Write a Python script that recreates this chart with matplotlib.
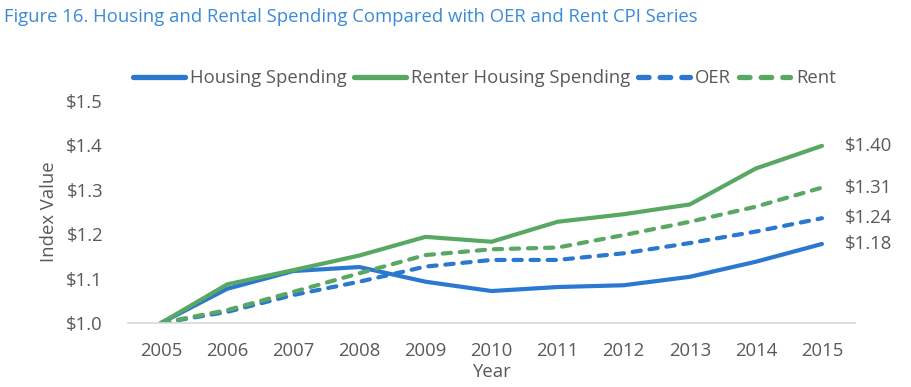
import matplotlib
matplotlib.use('Agg')
from matplotlib import pyplot as plt
from matplotlib.lines import Line2D

plt.rcParams['font.family'] = ['Open Sans', 'DejaVu Sans']

#%%
years = ['2005', '2006', '2007', '2008', '2009', '2010', '2011', '2012', '2013', '2014', '2015']
housing = [1.000, 1.077, 1.117, 1.126, 1.093, 1.072, 1.081, 1.085, 1.104, 1.138, 1.178]
renter = [1.000, 1.087, 1.119, 1.152, 1.194, 1.183, 1.228, 1.245, 1.267, 1.348, 1.399]
oer = [1.000, 1.025, 1.063, 1.093, 1.127, 1.142, 1.142, 1.157, 1.180, 1.206, 1.236]
rent = [1.000, 1.029, 1.070, 1.112, 1.153, 1.166, 1.170, 1.198, 1.228, 1.262, 1.305]
end_labels = ['$1.18', '$1.40', '$1.24', '$1.31']
y_ticks = [1.0, 1.1, 1.2, 1.3, 1.4, 1.5]

BLUE = '#2a78cf'
GREEN = '#58a864'
GREY = '#595959'
FS = 13.3
DASH = (0, (2.0, 2.1))

#%%
fig = plt.figure(figsize=(9.12, 3.87), dpi=100)
ax = fig.add_axes([0.1404, 0.1654, 0.7971, 0.5736])

x = range(len(years))
series = [
    (housing, 'Housing Spending', BLUE, '-'),
    (renter, 'Renter Housing Spending', GREEN, '-'),
    (oer, 'OER', BLUE, DASH),
    (rent, 'Rent', GREEN, DASH),
]
for (vals, name, color, ls), lab in zip(series, end_labels):
    ax.plot(x, vals, color=color, linestyle=ls, linewidth=3.0, label=name,
            solid_capstyle='round', dash_capstyle='round')
    ax.annotate(lab, xy=(len(years) - 1, vals[-1]), xytext=(16.5, 0),
                textcoords='offset points', va='center', ha='left',
                fontsize=FS, color=GREY, annotation_clip=False)

ax.set_xlim(-0.5, len(years) - 0.5)
ax.set_ylim(1.0, 1.5)
ax.set_xticks(list(x))
ax.set_xticklabels(years)
ax.set_yticks(y_ticks)
ax.set_yticklabels([f'${v:.1f}' for v in y_ticks])
ax.tick_params(length=0, labelsize=FS, labelcolor=GREY, pad=14)
ax.tick_params(axis='y', pad=18)
for s in ['top', 'right', 'left']:
    ax.spines[s].set_visible(False)
ax.spines['bottom'].set_color('#d9d9d9')
ax.spines['bottom'].set_linewidth(1.2)

ax.set_xlabel('Year', fontsize=FS, color=GREY, labelpad=1.5)
ax.set_ylabel('Index Value', fontsize=FS, color=GREY, labelpad=6)

handles = [Line2D([], [], color=c, linestyle=ls, linewidth=3.8,
                  solid_capstyle='round', dash_capstyle='round')
           for _, _, c, ls in series]
fig.legend(handles, [s[1] for s in series], loc='center', ncol=4,
           bbox_to_anchor=(0.531, 0.798), frameon=False, fontsize=FS,
           labelcolor=GREY, handlelength=2.8, handletextpad=0.3,
           columnspacing=0.4, borderpad=0, borderaxespad=0)

fig.text(0.004, 0.956, 'Figure 16. Housing and Rental Spending Compared with OER and Rent CPI Series',
         fontsize=FS, color='#3b8ad8', va='center', ha='left')

fig.savefig('out.png', dpi=100)
